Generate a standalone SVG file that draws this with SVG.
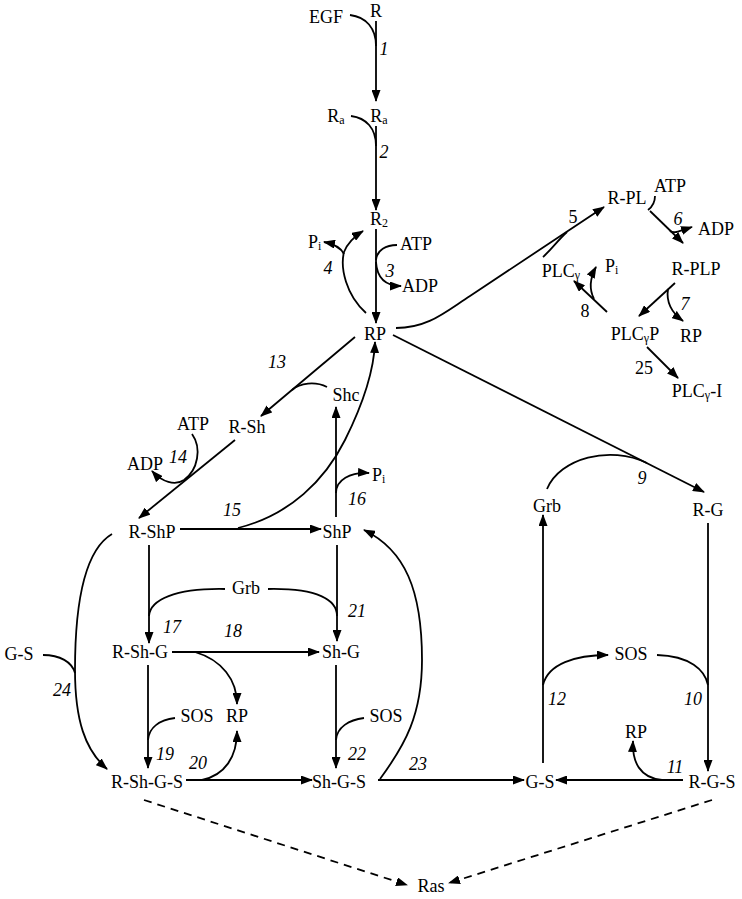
<svg xmlns="http://www.w3.org/2000/svg" width="742" height="899" viewBox="0 0 742 899">
<style>
.t{font-family:"Liberation Serif","Times New Roman",serif;font-size:18px;fill:#000;text-anchor:middle}
.s{text-anchor:start}
.n{font-style:italic}
.sub{font-size:12px}
.c{fill:none;stroke:#000;stroke-width:1.8}
.a{marker-end:url(#ah)}
.d{stroke-dasharray:8,6}
</style>
<defs>
<marker id="ah" markerUnits="userSpaceOnUse" markerWidth="12" markerHeight="9" refX="11" refY="4.5" orient="auto">
<path d="M0,0 L12,4.5 L0,9 z" fill="#000"/>
</marker>
</defs>
<rect width="742" height="899" fill="#fff"/>
<g id="connectors">
<path class="c" d="M350,15 C366,17 376,28 376,46"/>
<path class="c a" d="M376,21 L376,101"/>
<path class="c" d="M351,116 C366,118 376,128 376,146"/>
<path class="c a" d="M376,126 L376,210"/>
<path class="c a" d="M376,229 L376,323"/>
<path class="c" d="M397,245 C386,245 377,250 376,260"/>
<path class="c a" d="M376,262 C377,278 386,286 401,286"/>
<path class="c a" d="M366,313 C346,295 340,268 344,252 C348,242 355,236 363,231"/>
<path class="c a" d="M344,254 C341,248 334,244 324,242"/>
<path class="c a" d="M396,328 C428,328 445,312 470,296 L604,207"/>
<path class="c" d="M543,257 C553,248 558,240 567,232"/>
<path class="c a" d="M650,211 L683,243"/>
<path class="c" d="M655,196 C655,203 652,207 648,210"/>
<path class="c a" d="M670,231 C674,234 680,231 692,227"/>
<path class="c a" d="M675,283 L639,316"/>
<path class="c a" d="M668,289 C666,302 672,313 683,321"/>
<path class="c a" d="M607,312 L574,281"/>
<path class="c a" d="M594,299 C589,289 590,278 596,267"/>
<path class="c a" d="M647,347 L678,378"/>
<path class="c a" d="M393,335 L704,492"/>
<path class="c" d="M547,489 C560,458 610,445 647,463"/>
<path class="c a" d="M708,523 L708,771"/>
<path class="c" d="M657,655 C690,656 705,670 708,685"/>
<path class="c a" d="M683,780 L556,780"/>
<path class="c a" d="M662,780 C640,778 632,762 633,741"/>
<path class="c a" d="M543,763 L543,515"/>
<path class="c a" d="M543,685 C548,664 575,655 608,655"/>
<path class="c a" d="M355,337 L261,416"/>
<path class="c" d="M327,387 C315,381 300,383 292,390"/>
<path class="c a" d="M235,440 L139,518"/>
<path class="c a" d="M192,434 C202,448 198,470 184,480 C175,486 162,482 152,471"/>
<path class="c a" d="M238,528 C290,515 325,480 345,440 C365,400 374,370 375,342"/>
<path class="c a" d="M336,517 L336,407"/>
<path class="c a" d="M336,493 C336,480 350,472 369,473"/>
<path class="c a" d="M180,529 L321,529"/>
<path class="c a" d="M149,545 L149,643"/>
<path class="c" d="M225,589 C175,588 150,600 149,616"/>
<path class="c a" d="M337,545 L337,641"/>
<path class="c" d="M268,589 C318,588 337,600 337,616"/>
<path class="c a" d="M172,652 L319,652"/>
<path class="c a" d="M148,665 L148,768"/>
<path class="c" d="M175,718 C160,720 149,727 148,740"/>
<path class="c a" d="M195,652 C222,660 237,680 237,704"/>
<path class="c a" d="M202,780 C225,775 237,757 237,731"/>
<path class="c a" d="M336,665 L336,768"/>
<path class="c" d="M364,718 C349,720 337,727 336,740"/>
<path class="c a" d="M186,780 L312,780"/>
<path class="c a" d="M378,780 L524,780"/>
<path class="c a" d="M380,779 C405,745 422,715 422,660 C422,590 405,550 364,530"/>
<path class="c a" d="M112,534 C85,550 75,600 75,670 C75,720 85,750 107,769"/>
<path class="c" d="M43,655 C60,655 72,662 75,673"/>
<path class="c d a" d="M144,800 L407,885"/>
<path class="c d a" d="M712,800 L449,883"/>
</g>
<g id="edge-labels">
<text class="t n" x="384" y="55">1</text>
<text class="t n" x="384" y="158">2</text>
<text class="t n" x="390" y="277">3</text>
<text class="t n" x="328" y="274">4</text>
<text class="t" x="573" y="223">5</text>
<text class="t n" x="678" y="225">6</text>
<text class="t n" x="685" y="310">7</text>
<text class="t" x="585" y="317">8</text>
<text class="t n" x="642" y="484">9</text>
<text class="t n" x="693" y="705">10</text>
<text class="t n" x="675" y="773">11</text>
<text class="t n" x="557" y="705">12</text>
<text class="t n" x="277" y="368">13</text>
<text class="t n" x="178" y="463">14</text>
<text class="t n" x="232" y="516">15</text>
<text class="t n" x="357" y="505">16</text>
<text class="t n" x="172" y="633">17</text>
<text class="t n" x="233" y="637">18</text>
<text class="t n" x="165" y="760">19</text>
<text class="t n" x="198" y="769">20</text>
<text class="t n" x="357" y="617">21</text>
<text class="t n" x="357" y="760">22</text>
<text class="t n" x="418" y="770">23</text>
<text class="t n" x="62" y="696">24</text>
<text class="t" x="644" y="374">25</text>
</g>
<g id="n-R"><text class="t" x="376" y="17">R</text></g>
<g id="n-EGF"><text class="t" x="326" y="23">EGF</text></g>
<g id="n-Ra1"><text class="t" x="336" y="122">R<tspan class="sub" dy="2">a</tspan></text></g>
<g id="n-Ra2"><text class="t" x="379" y="122">R<tspan class="sub" dy="2">a</tspan></text></g>
<g id="n-R2"><text class="t" x="379" y="225">R<tspan class="sub" dy="2">2</tspan></text></g>
<g id="n-ATP1"><text class="t" x="416" y="250">ATP</text></g>
<g id="n-ADP1"><text class="t" x="420" y="292">ADP</text></g>
<g id="n-Pi1"><text class="t s" x="308" y="248">P<tspan class="sub" dy="2">i</tspan></text></g>
<g id="n-RP"><text class="t" x="375" y="340">RP</text></g>
<g id="n-RPL"><text class="t" x="627" y="204">R-PL</text></g>
<g id="n-ATP2"><text class="t" x="670" y="192">ATP</text></g>
<g id="n-ADP2"><text class="t" x="716" y="235">ADP</text></g>
<g id="n-PLCg"><text class="t" x="561" y="277">PLC<tspan class="sub" dy="2">γ</tspan></text></g>
<g id="n-Pi2"><text class="t s" x="605" y="272">P<tspan class="sub" dy="2">i</tspan></text></g>
<g id="n-RPLP"><text class="t" x="696" y="275">R-PLP</text></g>
<g id="n-PLCgP"><text class="t" x="635" y="340">PLC<tspan class="sub" dy="2">γ</tspan><tspan dy="-2">P</tspan></text></g>
<g id="n-RP2"><text class="t" x="691" y="342">RP</text></g>
<g id="n-PLCgI"><text class="t" x="697" y="397">PLC<tspan class="sub" dy="2">γ</tspan><tspan dy="-2">-I</tspan></text></g>
<g id="n-Shc"><text class="t" x="346" y="401">Shc</text></g>
<g id="n-RSh"><text class="t" x="247" y="433">R-Sh</text></g>
<g id="n-ATP3"><text class="t" x="193" y="430">ATP</text></g>
<g id="n-ADP3"><text class="t" x="145" y="470">ADP</text></g>
<g id="n-Pi3"><text class="t s" x="372" y="481">P<tspan class="sub" dy="2">i</tspan></text></g>
<g id="n-RShP"><text class="t" x="152" y="538">R-ShP</text></g>
<g id="n-ShP"><text class="t" x="337" y="538">ShP</text></g>
<g id="n-Grb1"><text class="t" x="246" y="594">Grb</text></g>
<g id="n-RShG"><text class="t" x="140" y="658">R-Sh-G</text></g>
<g id="n-ShG"><text class="t" x="341" y="658">Sh-G</text></g>
<g id="n-GS1"><text class="t" x="19" y="660">G-S</text></g>
<g id="n-SOS1"><text class="t" x="197" y="722">SOS</text></g>
<g id="n-RP3"><text class="t" x="237" y="722">RP</text></g>
<g id="n-SOS2"><text class="t" x="386" y="722">SOS</text></g>
<g id="n-RShGS"><text class="t" x="147" y="788">R-Sh-G-S</text></g>
<g id="n-ShGS"><text class="t" x="339" y="788">Sh-G-S</text></g>
<g id="n-GS2"><text class="t" x="540" y="788">G-S</text></g>
<g id="n-Grb2"><text class="t" x="547" y="512">Grb</text></g>
<g id="n-RG"><text class="t" x="708" y="516">R-G</text></g>
<g id="n-SOS3"><text class="t" x="631" y="660">SOS</text></g>
<g id="n-RP4"><text class="t" x="636" y="738">RP</text></g>
<g id="n-RGS"><text class="t" x="712" y="788">R-G-S</text></g>
<g id="n-Ras"><text class="t" x="431" y="892">Ras</text></g>
</svg>
